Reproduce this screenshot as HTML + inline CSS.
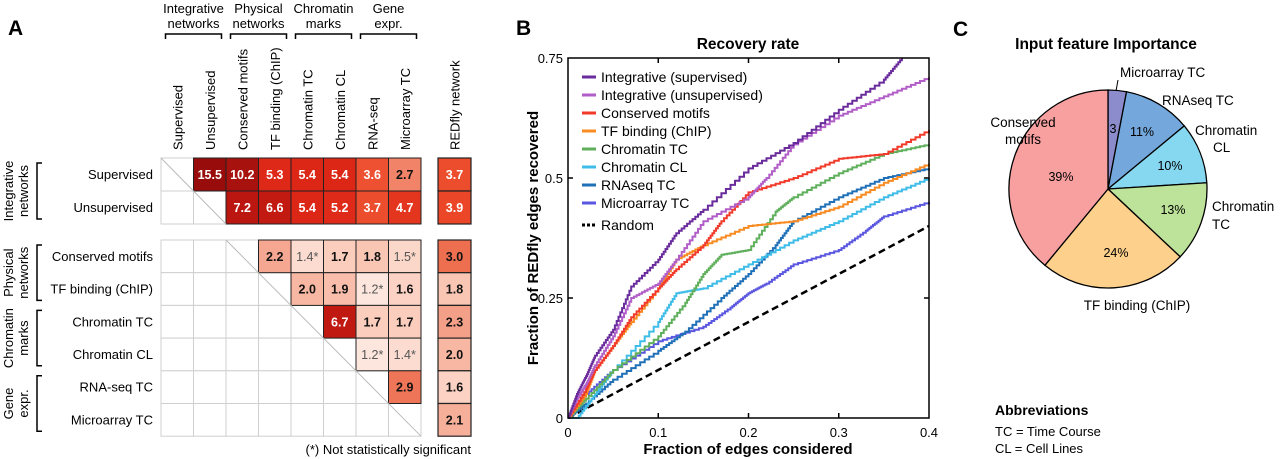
<!DOCTYPE html>
<html><head><meta charset="utf-8"><style>
body{margin:0;background:#fff}
svg{display:block;font-family:"Liberation Sans",Arial,sans-serif}
</style></head><body>
<svg id="fig" width="1280" height="459" viewBox="0 0 1280 459">
<g id="panelA"></g>
<g id="panelB"></g>
<g id="panelC"></g>
</svg>
<script>
const NS="http://www.w3.org/2000/svg";
function mk(parent,tag,attrs,text){const e=document.createElementNS(NS,tag);for(const k in attrs)e.setAttribute(k,attrs[k]);if(text!==undefined)e.textContent=text;parent.appendChild(e);return e;}

// ===== Panel A data =====
const colLabels=["Supervised","Unsupervised","Conserved motifs","TF binding (ChIP)","Chromatin TC","Chromatin CL","RNA-seq","Microarray TC"];
const topRowLabels=["Supervised","Unsupervised"];
const topValues=[[null,15.5,10.2,5.3,5.4,5.4,3.6,2.7],[null,null,7.2,6.6,5.4,5.2,3.7,4.7]];
const bottomRowLabels=["Conserved motifs","TF binding (ChIP)","Chromatin TC","Chromatin CL","RNA-seq TC","Microarray TC"];
const bottomValues=[
 [null,null,null,2.2,1.4,1.7,1.8,1.5],
 [null,null,null,null,2.0,1.9,1.2,1.6],
 [null,null,null,null,null,6.7,1.7,1.7],
 [null,null,null,null,null,null,1.2,1.4],
 [null,null,null,null,null,null,null,2.9],
 [null,null,null,null,null,null,null,null]];
const notSig=[[0,4],[0,7],[1,6],[3,6],[3,7]];
const redflyTop=[3.7,3.9];
const redflyBottom=[3.0,1.8,2.3,2.0,1.6,2.1];

function heat(v){
 const stops=[[1.0,[254,240,234]],[1.7,[250,205,188]],[2.3,[244,160,136]],[3.0,[238,110,80]],[3.8,[236,72,40]],[5.3,[222,40,24]],[6.8,[190,24,16]],[10,[168,18,14]],[16,[150,12,12]]];
 for(let i=0;i<stops.length-1;i++){const[a,ca]=stops[i],[b,cb]=stops[i+1];if(v<=b){const t=Math.max(0,(v-a)/(b-a));return`rgb(${ca.map((c,j)=>Math.round(c+(cb[j]-c)*t)).join(",")})`;}}
 return"rgb(150,12,12)";
}
const A=document.getElementById("panelA");
const gx0=161,cw=32.5,topY=158,rh=33,botY=240,brh=32.7,rfX=438,rfW=33;
mk(A,"text",{x:8,y:35,"font-size":21,"font-weight":"bold",},"A");
const groups=[["Integrative","networks",0],["Physical","networks",2],["Chromatin","marks",4],["Gene","expr.",6]];
groups.forEach(g=>{const cx=gx0+cw*(g[2]+1);
 const gg=mk(A,"g",{});
 mk(gg,"text",{x:cx,y:13,"font-size":13,"text-anchor":"middle"},g[0]);
 mk(gg,"text",{x:cx,y:28,"font-size":13,"text-anchor":"middle"},g[1]);
 mk(gg,"path",{d:`M${cx-28} 39V34H${cx+28}V39`,fill:"none",stroke:"#000","stroke-width":1.5});
});
colLabels.forEach((l,i)=>{const t=mk(A,"text",{transform:`translate(${gx0+cw*i+cw/2+5},150) rotate(-90)`,"font-size":13});t.textContent=l;
 
 });
mk(A,"text",{transform:`translate(${rfX+rfW/2+5},150) rotate(-90)`,"font-size":13,},"REDfly network");
function drawBlock(vals,labels,y0,h,rf){
 vals.forEach((row,r)=>{row.forEach((v,c)=>{const x=gx0+cw*c,y=y0+h*r;
   if(v===null){const e=mk(A,"rect",{x:x,y:y,width:cw,height:h,fill:"#fff",stroke:"#cfcfcf","stroke-width":1});
     }
 });});
 vals.forEach((row,r)=>{row.forEach((v,c)=>{if(v===null)return;const x=gx0+cw*c,y=y0+h*r;
   const e=mk(A,"rect",{x:x,y:y,width:cw,height:h,fill:heat(v),stroke:"#222","stroke-width":1});
   
   const ns=(y0===botY)&&notSig.some(p=>p[0]===r&&p[1]===c);
   const t=mk(A,"text",{x:x+cw/2,y:y+h/2+4.5,"font-size":12.5,"font-weight":ns?"normal":"bold","text-anchor":"middle",fill:ns?"#555":(v>=2.5&&v!==2.7&&v!==2.9?"#fff":"#111")},v.toFixed(1)+(ns?"*":""));
   
 });});
 labels.forEach((l,r)=>{const t=mk(A,"text",{x:153,y:y0+h*r+h/2+4.5,"font-size":13,"text-anchor":"end"},l);
   });
 rf.forEach((v,r)=>{const y=y0+h*r;const e=mk(A,"rect",{x:rfX,y:y,width:rfW,height:h,fill:heat(v),stroke:"#222","stroke-width":1.2});
   
   const t=mk(A,"text",{x:rfX+rfW/2,y:y+h/2+4.5,"font-size":12.5,"font-weight":"bold","text-anchor":"middle",fill:v>=3.5?"#fff":"#111"},v.toFixed(1));
   });
}
drawBlock(topValues,topRowLabels,topY,rh,redflyTop);
drawBlock(bottomValues,bottomRowLabels,botY,brh,redflyBottom);
mk(A,"line",{x1:gx0,y1:topY,x2:gx0+2*cw,y2:topY+2*rh,stroke:"#bbb","stroke-width":1,});
mk(A,"line",{x1:gx0+2*cw,y1:botY,x2:gx0+8*cw,y2:botY+6*brh,stroke:"#bbb","stroke-width":1,});
const lgroups=[["Integrative","networks",topY+rh,topY+5,topY+2*rh-5],["Physical","networks",botY+brh,botY+5,botY+2*brh-5],["Chromatin","marks",botY+3*brh,botY+2*brh+5,botY+4*brh-5],["Gene","expr.",botY+5*brh,botY+4*brh+5,botY+6*brh-5]];
lgroups.forEach(g=>{const gg=mk(A,"g",{});
 mk(gg,"text",{transform:`translate(13,${g[2]}) rotate(-90)`,"font-size":13,"text-anchor":"middle"},g[0]);
 mk(gg,"text",{transform:`translate(28,${g[2]}) rotate(-90)`,"font-size":13,"text-anchor":"middle"},g[1]);
 mk(gg,"path",{d:`M42 ${g[3]}H37V${g[4]}H42`,fill:"none",stroke:"#000","stroke-width":1.5});
});
mk(A,"text",{x:471,y:454,"font-size":13,"text-anchor":"end",},"(*) Not statistically significant");

// ===== Panel B data =====
const seriesNames=["Integrative (supervised)","Integrative (unsupervised)","Conserved motifs","TF binding (ChIP)","Chromatin TC","Chromatin CL","RNAseq TC","Microarray TC"];
const seriesColors=["#6a2c9c","#b25ec8","#f23a2a","#f88b22","#5faf5c","#3fbde8","#2070b8","#5a56e0"];
const xSup=[0,0.01,0.02,0.03,0.05,0.07,0.1,0.12,0.15,0.2,0.25,0.3,0.35,0.37];
const ySup=[0,0.05,0.087,0.13,0.184,0.274,0.33,0.385,0.434,0.52,0.573,0.642,0.705,0.75];
const xUns=[0,0.01,0.02,0.03,0.05,0.07,0.1,0.12,0.15,0.2,0.22,0.25,0.3,0.35,0.4];
const yUns=[0,0.04,0.07,0.11,0.17,0.25,0.28,0.33,0.41,0.46,0.5,0.57,0.63,0.67,0.71];
const xCons=[0,0.02,0.03,0.05,0.07,0.1,0.12,0.15,0.17,0.2,0.25,0.3,0.35,0.4];
const yCons=[0,0.06,0.1,0.15,0.21,0.27,0.31,0.36,0.41,0.47,0.5,0.54,0.55,0.6];
const xTF=[0,0.02,0.03,0.05,0.07,0.1,0.12,0.15,0.2,0.25,0.3,0.35,0.4];
const yTF=[0,0.05,0.1,0.15,0.2,0.27,0.33,0.36,0.4,0.41,0.44,0.49,0.53];
const xChTC=[0,0.02,0.05,0.1,0.13,0.15,0.17,0.2,0.23,0.25,0.3,0.35,0.4];
const yChTC=[0,0.04,0.1,0.17,0.24,0.3,0.34,0.35,0.43,0.46,0.51,0.55,0.57];
const xChCL=[0,0.01,0.03,0.05,0.1,0.12,0.15,0.2,0.25,0.3,0.35,0.4];
const yChCL=[0,0,0.05,0.1,0.2,0.26,0.27,0.32,0.37,0.41,0.46,0.5];
const xRNA=[0,0.02,0.05,0.1,0.13,0.17,0.2,0.23,0.25,0.3,0.35,0.4];
const yRNA=[0,0.03,0.08,0.14,0.18,0.25,0.3,0.36,0.41,0.46,0.5,0.52];
const xMic=[0,0.02,0.05,0.1,0.15,0.18,0.2,0.22,0.25,0.3,0.33,0.35,0.4];
const yMic=[0,0.05,0.1,0.16,0.19,0.23,0.26,0.28,0.32,0.35,0.39,0.42,0.45];
const xTicks=[0,0.1,0.2,0.3,0.4];
const xTickLabels=["0","0.1","0.2","0.3","0.4"];
const yTicks=[0,0.25,0.5,0.75];
const yTickLabels=["0","0.25","0.5","0.75"];
const allX=[xSup,xUns,xCons,xTF,xChTC,xChCL,xRNA,xMic];
const allY=[ySup,yUns,yCons,yTF,yChTC,yChCL,yRNA,yMic];

const B=document.getElementById("panelB");
const px0=568,px1=929,py0=418,py1=58;
const sx=v=>px0+(v/0.4)*(px1-px0), sy=v=>py0-(v/0.75)*(py0-py1);
mk(B,"text",{x:516,y:35,"font-size":21,"font-weight":"bold",},"B");
mk(B,"text",{x:748,y:49,"font-size":15.5,"font-weight":"bold","text-anchor":"middle",},"Recovery rate");
const plot=mk(B,"g",{});
mk(plot,"line",{x1:sx(0),y1:sy(0),x2:sx(0.4),y2:sy(0.4),stroke:"#000","stroke-width":2.5,"stroke-dasharray":"7,4",});
for(let s=allX.length-1;s>=0;s--){
 const xs=allX[s],ys=allY[s];let d=`M${sx(xs[0])},${sy(ys[0])}`;
 for(let i=1;i<xs.length;i++){
   const n=10;for(let k=1;k<=n;k++){const xv=xs[i-1]+(xs[i]-xs[i-1])*k/n,yv=ys[i-1]+(ys[i]-ys[i-1])*k/n;
     d+=`H${sx(xv).toFixed(1)}V${sy(yv).toFixed(1)}`;}
 }
 const p=mk(plot,"path",{d:d,fill:"none",stroke:seriesColors[s],"stroke-width":2});
 
 
}
mk(B,"rect",{x:px0,y:py1,width:px1-px0,height:py0-py1,fill:"none",stroke:"#000","stroke-width":1.5,});
xTicks.forEach((v,i)=>{const x=sx(v);
 if(i>0&&i<xTicks.length-1){mk(B,"line",{x1:x,y1:py0,x2:x,y2:py0-5,stroke:"#000","stroke-width":1.5});mk(B,"line",{x1:x,y1:py1,x2:x,y2:py1+5,stroke:"#000","stroke-width":1.5});}
 const t=mk(B,"text",{x:x,y:437,"font-size":13,"text-anchor":"middle"},xTickLabels[i]);
 });
yTicks.forEach((v,i)=>{const y=sy(v);
 if(i>0&&i<yTicks.length-1){mk(B,"line",{x1:px0,y1:y,x2:px0+5,y2:y,stroke:"#000","stroke-width":1.5});mk(B,"line",{x1:px1,y1:y,x2:px1-5,y2:y,stroke:"#000","stroke-width":1.5});}
 const t=mk(B,"text",{x:563,y:y+5,"font-size":13,"text-anchor":"end"},yTickLabels[i]);
 });
mk(B,"text",{x:748,y:454,"font-size":15,"font-weight":"bold","text-anchor":"middle",},"Fraction of edges considered");
mk(B,"text",{transform:"translate(538,238) rotate(-90)","font-size":15,"font-weight":"bold","text-anchor":"middle",},"Fraction of REDfly edges recovered");
const leg=mk(B,"g",{});
seriesNames.forEach((n,i)=>{const y=77+i*18;
 const g=mk(leg,"g",{});
 mk(g,"line",{x1:582,y1:y,x2:596,y2:y,stroke:seriesColors[i],"stroke-width":3});
 mk(g,"text",{x:601,y:y+5,"font-size":14},n);});
const rg=mk(leg,"g",{});
mk(rg,"line",{x1:582,y1:225,x2:596,y2:225,stroke:"#000","stroke-width":3,"stroke-dasharray":"3,2"});
mk(rg,"text",{x:601,y:230,"font-size":14},"Random");

// ===== Panel C data =====
const pieLabels=["Microarray TC","RNAseq TC","Chromatin CL","Chromatin TC","TF binding (ChIP)","Conserved motifs"];
const pieValues=[3,11,10,13,24,39];
const pieColors=["#8c8ccc","#74a8dc","#86d8f0","#bde29a","#fdd08c","#f8a0a0"];
const C=document.getElementById("panelC");
mk(C,"text",{x:953,y:36,"font-size":21,"font-weight":"bold",},"C");
mk(C,"text",{x:1106,y:49,"font-size":15.5,"font-weight":"bold","text-anchor":"middle",},"Input feature Importance");
const cx=1108,cy=189,R=99;const tot=pieValues.reduce((a,b)=>a+b,0);let acc=0;
const pctPos=[[1113,133,"3"],[1142,136,"11%"],[1170,170,"10%"],[1173,214,"13%"],[1116,257,"24%"],[1061,181,"39%"]];
pieValues.forEach((v,i)=>{const a0=acc/tot*2*Math.PI,a1=(acc+v)/tot*2*Math.PI;acc+=v;
 const x0=cx+R*Math.sin(a0),y0=cy-R*Math.cos(a0),x1=cx+R*Math.sin(a1),y1=cy-R*Math.cos(a1);
 const p=mk(C,"path",{d:`M${cx},${cy}L${x0},${y0}A${R},${R} 0 ${a1-a0>Math.PI?1:0} 1 ${x1},${y1}Z`,fill:pieColors[i],stroke:"#000","stroke-width":1.3});
 
 const t=mk(C,"text",{x:pctPos[i][0],y:pctPos[i][1],"font-size":12.5,"text-anchor":"middle"},i===0?String(v):v+"%");
 
});
mk(C,"line",{x1:1118,y1:80,x2:1116,y2:91,stroke:"#000","stroke-width":1});
const pl=[["Microarray TC",1120,77,"start"],["RNAseq TC",1162,105,"start"],["Chromatin",1195,135,"start"],["CL",1213,152,"start"],["Chromatin",1212,211,"start"],["TC",1212,229,"start"],["TF binding (ChIP)",1137,310,"middle"],["Conserved",1023,127,"middle"],["motifs",1023,144,"middle"]];
pl.forEach(l=>{const t=mk(C,"text",{x:l[1],y:l[2],"font-size":13.5,"text-anchor":l[3]},l[0]);});
const ab=mk(C,"g",{});
mk(ab,"text",{x:995,y:415,"font-size":14,"font-weight":"bold"},"Abbreviations");
mk(ab,"text",{x:995,y:436,"font-size":13},"TC = Time Course");
mk(ab,"text",{x:995,y:453,"font-size":13},"CL = Cell Lines");
</script>
</body></html>
